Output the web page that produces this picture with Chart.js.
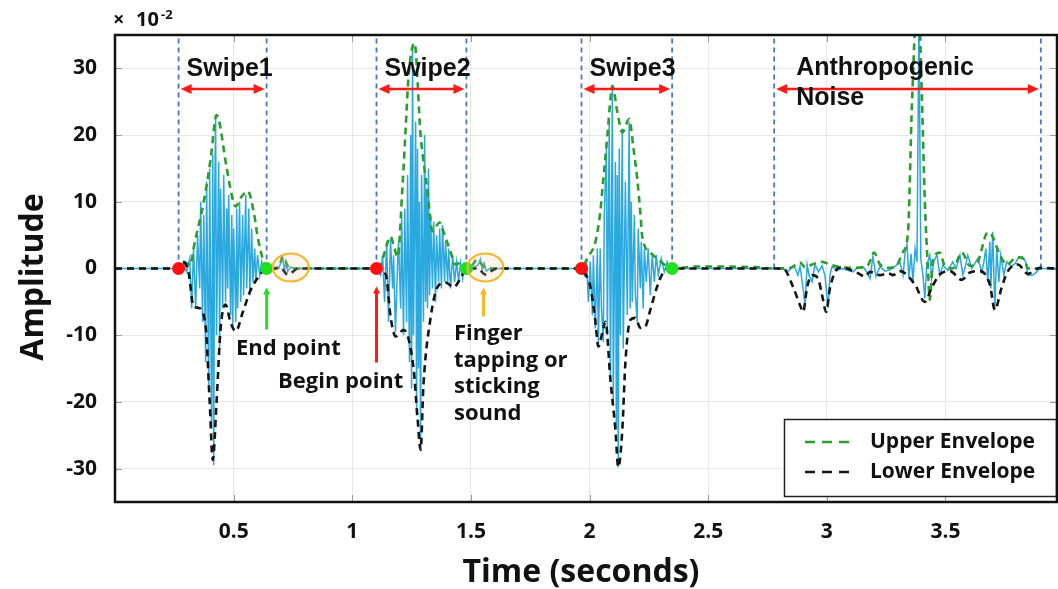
<!DOCTYPE html>
<html>
<head>
<meta charset="utf-8">
<script src="https://cdn.jsdelivr.net/npm/chart.js@4.4.1/dist/chart.umd.min.js"></script>
<style>
  html, body { margin: 0; padding: 0; background: #fff; overflow: hidden; }
  canvas { display: block; }
</style>
</head>
<body>
<canvas id="c" width="1058" height="589"></canvas>
<script>
// ---- axis ticks ----
const xTickValues = [0.5, 1, 1.5, 2, 2.5, 3, 3.5];
const yTickValues = [-30, -20, -10, 0, 10, 20, 30];

// ---- segment boundaries (seconds) ----
const swipeBegin = [0.268, 1.102, 1.966];
const swipeEnd = [0.639, 1.481, 2.348];
const noiseWindow = [2.778, 3.902];
const segmentNames = ['Swipe1', 'Swipe2', 'Swipe3'];
const tapCentres = [0.741, 1.561];

// ---- recorded waveform [time s, amplitude x1e-2] ----
const signalLead = [[0, 0]];
const signalSwipe1 = [[0.268,0],[0.285,0.8],[0.302,-0.5],[0.315,1.5],[0.323,-6],[0.331,3],[0.340,-6],[0.348,5],[0.357,-3],[0.361,10],[0.369,-8],[0.374,8],[0.382,-14],[0.386,13],[0.395,-18],[0.399,15],[0.407,-24],[0.412,17],[0.416,-29.5],[0.420,10],[0.424,23],[0.428,-10],[0.437,16],[0.441,-12],[0.445,12],[0.454,-6],[0.458,14],[0.466,-5],[0.471,9],[0.475,-3],[0.479,11],[0.487,-7],[0.492,8],[0.496,-9],[0.500,6],[0.509,-8],[0.513,9],[0.517,-6],[0.525,10],[0.530,-5],[0.538,8],[0.542,-4],[0.551,11],[0.555,-3],[0.564,9],[0.568,-4],[0.576,6],[0.581,-2],[0.589,3],[0.593,-2],[0.601,2],[0.610,-1],[0.618,1],[0.627,-0.5],[0.639,0]];
const signalTap1 = [[0.690,0],[0.707,1.6],[0.714,-0.3],[0.720,1.0],[0.727,-0.5],[0.740,0.2],[0.760,0]];
const signalSwipe2 = [[1.102,0],[1.119,-1],[1.128,2],[1.136,-5],[1.145,4],[1.153,-8],[1.161,4.5],[1.170,-3],[1.174,2],[1.182,-9.5],[1.191,1],[1.195,4],[1.204,-6],[1.208,8],[1.216,-10],[1.221,9],[1.229,-8],[1.233,14],[1.241,-14],[1.246,20],[1.250,-18],[1.254,33.5],[1.258,-10],[1.267,22],[1.271,-22],[1.275,18],[1.279,-15],[1.283,10],[1.288,-27],[1.292,14],[1.300,-8],[1.305,20],[1.309,-5],[1.313,12],[1.317,-6],[1.321,15],[1.326,-4],[1.330,8],[1.338,-3],[1.343,7],[1.351,-5],[1.355,5],[1.364,-2],[1.368,6],[1.376,-3],[1.380,6.5],[1.389,-2],[1.393,4],[1.402,-2],[1.406,3],[1.414,-3],[1.423,2],[1.431,-2],[1.440,1],[1.448,-2],[1.456,0.8],[1.465,-1.5],[1.473,0.5],[1.481,0]];
const signalTap2 = [[1.500,0],[1.530,0.5],[1.540,1.4],[1.548,-0.3],[1.556,0.8],[1.565,-0.4],[1.580,0]];
const signalSwipe3 = [[1.966,0],[1.978,-1],[1.987,1.5],[1.995,-5],[2.003,1],[2.012,-7],[2.016,2],[2.024,-9],[2.033,3],[2.037,-11.5],[2.045,3],[2.050,-6],[2.058,-11],[2.062,8],[2.071,18],[2.075,-10],[2.083,22],[2.088,-17],[2.096,27],[2.100,-20],[2.109,16],[2.113,-24],[2.117,14],[2.121,-29.8],[2.125,18],[2.130,-10],[2.138,21],[2.142,-12],[2.151,13],[2.159,-7],[2.167,22],[2.171,-6],[2.176,10],[2.180,-5],[2.189,8],[2.193,-4],[2.201,-8],[2.205,6],[2.214,-3],[2.218,4],[2.226,-6],[2.231,3],[2.239,-2],[2.247,3],[2.256,-4],[2.264,2],[2.273,-2],[2.281,2],[2.290,-1],[2.302,1.5],[2.315,-0.5],[2.327,1],[2.336,0],[2.348,0]];
const signalNoise = [[2.778,0],[2.816,0],[2.833,-0.5],[2.862,0.4],[2.878,-1],[2.887,0.3],[2.900,-3],[2.908,-5.5],[2.917,0.6],[2.925,-1],[2.938,-2],[2.950,0.6],[2.965,-0.5],[2.980,0.4],[2.992,-1],[3.005,-5.9],[3.013,-1],[3.022,0.3],[3.043,-0.3],[3.064,0],[3.110,-0.5],[3.131,0.2],[3.152,0.3],[3.170,-0.6],[3.182,-1.5],[3.194,1.8],[3.207,-1.2],[3.224,0.3],[3.245,-0.4],[3.266,-0.2],[3.290,0.4],[3.308,1],[3.321,-1],[3.330,2.5],[3.338,3.6],[3.346,-1.5],[3.355,2.2],[3.363,-2],[3.372,3],[3.380,1],[3.388,38],[3.396,1.5],[3.405,-1],[3.413,-4.5],[3.421,0.5],[3.434,2],[3.442,-1.5],[3.451,1],[3.464,2.1],[3.476,-1],[3.489,0.5],[3.510,-0.3],[3.531,1],[3.545,0],[3.561,2],[3.573,-1],[3.585,0.5],[3.594,2],[3.611,0],[3.636,1.5],[3.653,-0.5],[3.662,1],[3.670,3],[3.678,-2],[3.687,4],[3.691,-3],[3.699,5.5],[3.708,-6],[3.716,3],[3.725,-2],[3.733,2],[3.746,-1],[3.758,1],[3.779,0.3],[3.795,0.8],[3.805,1.5],[3.822,1.8],[3.838,1],[3.847,-1],[3.864,-1],[3.876,-0.8],[3.897,0],[3.970,0]];

// ---- upper envelope ----
const upperLead = [[0, 0]];
const upperSwipe1 = [[0.268,0],[0.289,1],[0.319,0.5],[0.331,3],[0.374,10],[0.403,16.4],[0.428,23],[0.471,15],[0.492,11],[0.509,9.3],[0.530,10.6],[0.560,11.6],[0.585,8.4],[0.601,4.8],[0.623,1.4],[0.639,0]];
const upperTap1 = [[0.690,0.2],[0.707,1.8],[0.732,0.2],[0.760,0]];
const upperSwipe2 = [[1.102,0],[1.124,1],[1.145,3.5],[1.161,4.8],[1.178,3],[1.191,1.7],[1.212,12.6],[1.225,21],[1.237,28.7],[1.262,33.8],[1.288,20],[1.317,11.6],[1.338,5.6],[1.368,6.9],[1.389,5],[1.414,2.5],[1.435,0.6],[1.465,1],[1.481,0]];
const upperTap2 = [[1.505,0.5],[1.525,1.3],[1.555,0.3],[1.590,0]];
const upperSwipe3 = [[1.966,0],[1.983,1],[1.995,1.8],[2.024,3.9],[2.045,8.4],[2.058,13.4],[2.075,19.8],[2.088,25.4],[2.096,27.4],[2.117,23.5],[2.138,20.4],[2.167,22.4],[2.184,18.3],[2.201,13.4],[2.214,8.4],[2.222,4.8],[2.256,2.4],[2.298,1.1],[2.327,0.3],[2.348,0]];
const upperNoise = [[2.450,0.3],[2.700,0.2],[2.778,0],[2.845,0.1],[2.887,0.9],[2.908,0.2],[2.938,0.6],[2.980,1.0],[3.013,0.6],[3.056,0.2],[3.119,0.1],[3.173,0.5],[3.199,2.4],[3.224,0.6],[3.266,0.1],[3.295,0.5],[3.321,2.5],[3.342,5.4],[3.359,25],[3.384,42],[3.401,25],[3.413,10],[3.426,0],[3.434,-4.7],[3.447,1.4],[3.476,2.4],[3.497,0.4],[3.531,0],[3.569,2.4],[3.603,0.4],[3.636,1],[3.678,5.4],[3.695,5],[3.729,2.1],[3.758,0.6],[3.801,1.7],[3.834,1.3],[3.847,0],[3.902,0],[3.970,0]];

// ---- lower envelope ----
const lowerLead = [[0, 0]];
const lowerSwipe1 = [[0.268,0],[0.285,1],[0.310,-0.6],[0.331,-5.7],[0.352,-5.9],[0.382,-8.7],[0.399,-20],[0.412,-28.7],[0.428,-20],[0.445,-9],[0.466,-5.4],[0.487,-8.1],[0.509,-9.4],[0.538,-6.6],[0.572,-3.2],[0.606,-1.2],[0.639,0]];
const lowerTap1 = [[0.700,0],[0.727,-0.9],[0.749,-0.5],[0.770,0]];
const lowerSwipe2 = [[1.102,0],[1.141,-0.9],[1.162,-7.4],[1.183,-10.2],[1.216,-9.2],[1.258,-14.9],[1.275,-22.4],[1.288,-27.2],[1.300,-17.4],[1.330,-7.4],[1.359,-2.8],[1.393,-2.1],[1.427,-2.8],[1.465,-0.9],[1.481,0]];
const lowerTap2 = [[1.530,0],[1.560,-0.9],[1.585,-0.4],[1.610,0]];
const lowerSwipe3 = [[1.966,0],[1.985,-1],[2.003,-2.7],[2.024,-7.7],[2.037,-11.7],[2.054,-9.6],[2.067,-8],[2.088,-16.7],[2.109,-24.2],[2.121,-29.8],[2.138,-24.2],[2.151,-14.1],[2.172,-7.7],[2.193,-7.4],[2.214,-8.9],[2.235,-8.7],[2.256,-6.2],[2.285,-2.7],[2.311,-0.6],[2.348,0]];
const lowerNoise = [[2.778,0],[2.816,0],[2.858,-2.8],[2.887,-5.5],[2.900,-6.5],[2.917,-2.8],[2.938,-1],[2.963,-1.5],[2.980,-4],[2.997,-6.5],[3.013,-3],[3.035,-0.5],[3.064,0.2],[3.098,-0.2],[3.131,-0.7],[3.161,-1.2],[3.182,-0.5],[3.224,-1],[3.258,-0.7],[3.279,-1],[3.308,-0.4],[3.371,-2.4],[3.413,-5],[3.443,-2.8],[3.476,-0.9],[3.519,-0.4],[3.569,-1.7],[3.603,-0.6],[3.645,-0.4],[3.687,-2.4],[3.708,-6.2],[3.737,-2.8],[3.763,-0.4],[3.805,0.6],[3.847,-0.8],[3.897,0.1],[3.970,0]];

const arrowLevel = 26.9;

// ---- helpers ----
const toPoints = arr => arr.map(p => ({ x: p[0], y: p[1] }));
const signal = toPoints([].concat(signalLead, signalSwipe1, signalTap1, signalSwipe2, signalTap2, signalSwipe3, signalNoise));
const upper = toPoints([].concat(upperLead, upperSwipe1, upperTap1, upperSwipe2, upperTap2, upperSwipe3, upperNoise));
const lower = toPoints([].concat(lowerLead, lowerSwipe1, lowerTap1, lowerSwipe2, lowerTap2, lowerSwipe3, lowerNoise));
const markerTimes = [...swipeBegin, ...swipeEnd, ...noiseWindow].sort((a, b) => a - b);
const markers = [];
markerTimes.forEach(t => { markers.push({ x: t, y: 0 }, { x: t, y: 36 }, { x: t, y: null }); });

const SANS = "'Open Sans', 'Noto Sans', sans-serif";
const ARIAL = "'Liberation Sans', Arial, sans-serif";

function arrowHead(ctx, x, y, dir, len, half) {
  // dir: 'left' | 'right' | 'up'
  ctx.beginPath();
  if (dir === 'left') { ctx.moveTo(x, y); ctx.lineTo(x + len, y - half); ctx.lineTo(x + len, y + half); }
  else if (dir === 'right') { ctx.moveTo(x, y); ctx.lineTo(x - len, y - half); ctx.lineTo(x - len, y + half); }
  else { ctx.moveTo(x, y); ctx.lineTo(x - half, y + len); ctx.lineTo(x + half, y + len); }
  ctx.closePath();
  ctx.fill();
}

const decorations = {
  id: 'decorations',
  beforeDatasetsDraw(chart) {
    const { ctx, chartArea: a } = chart;
    const xs = chart.scales.x, ys = chart.scales.y;
    // short inward ticks on the frame
    ctx.save();
    ctx.strokeStyle = '#9a9a9a';
    ctx.lineWidth = 1;
    xTickValues.forEach(v => {
      const px = Math.round(xs.getPixelForValue(v)) + 0.5;
      ctx.beginPath();
      ctx.moveTo(px, a.bottom); ctx.lineTo(px, a.bottom - 7);
      ctx.moveTo(px, a.top); ctx.lineTo(px, a.top + 7);
      ctx.stroke();
    });
    yTickValues.forEach(v => {
      const py = Math.round(ys.getPixelForValue(v)) + 0.5;
      ctx.beginPath();
      ctx.moveTo(a.left, py); ctx.lineTo(a.left + 7, py);
      ctx.moveTo(a.right, py); ctx.lineTo(a.right - 7, py);
      ctx.stroke();
    });
    ctx.restore();
  },
  afterDatasetsDraw(chart) {
    const { ctx, chartArea: a } = chart;
    const xs = chart.scales.x, ys = chart.scales.y;
    const X = v => xs.getPixelForValue(v), Y = v => ys.getPixelForValue(v);
    const y0 = Y(0);

    ctx.save();
    // tapping-sound rings
    tapCentres.forEach(t => {
      ctx.beginPath();
      ctx.ellipse(X(t), y0 - 1, 18, 14, 0, 0, Math.PI * 2);
      ctx.fillStyle = 'rgba(250, 200, 160, 0.18)';
      ctx.fill();
      ctx.strokeStyle = '#f7b52c';
      ctx.lineWidth = 2;
      ctx.stroke();
    });

    // red span arrows
    const spans = swipeBegin.map((b, i) => [b, swipeEnd[i]]).concat([noiseWindow]);
    ctx.strokeStyle = '#ff1a1a';
    ctx.fillStyle = '#ff1a1a';
    ctx.lineWidth = 2.5;
    const ya = Y(arrowLevel);
    spans.forEach(([b, e]) => {
      const x1 = X(b) + 2, x2 = X(e) - 2;
      ctx.beginPath();
      ctx.moveTo(x1 + 6, ya); ctx.lineTo(x2 - 6, ya);
      ctx.stroke();
      arrowHead(ctx, x1, ya, 'left', 11, 5);
      arrowHead(ctx, x2, ya, 'right', 11, 5);
    });

    // segment labels
    ctx.fillStyle = '#111';
    ctx.font = `bold 25px ${ARIAL}`;
    ctx.textBaseline = 'alphabetic';
    ctx.textAlign = 'left';
    segmentNames.forEach((name, i) => {
      ctx.fillText(name, X(swipeBegin[i]) + 8, a.top + 41);
    });
    ctx.fillText('Anthropogenic', X(noiseWindow[0]) + 22, a.top + 40);
    ctx.fillText('Noise', X(noiseWindow[0]) + 22, a.top + 70);

    // pointer arrows
    const pointer = (t, yTop, yBot, colour) => {
      const px = X(t);
      ctx.strokeStyle = colour; ctx.fillStyle = colour; ctx.lineWidth = 3;
      ctx.beginPath(); ctx.moveTo(px, yTop + 6); ctx.lineTo(px, yBot); ctx.stroke();
      arrowHead(ctx, px, yTop, 'up', 7, 3.5);
    };
    pointer(swipeEnd[0], y0 + 19, y0 + 61, '#22e022');
    pointer(swipeBegin[1], y0 + 18, y0 + 94, '#ff1a1a');
    pointer(tapCentres[1] - 0.008, y0 + 19, y0 + 48, '#fbb829');

    ctx.fillStyle = '#111';
    ctx.font = `bold 22px ${SANS}`;
    ctx.fillText('End point', 236, 355);
    ctx.fillText('Begin point', 278, 388);
    ['Finger', 'tapping or', 'sticking', 'sound'].forEach((s, i) => ctx.fillText(s, 454, 340 + i * 26.5));

    // legend
    const lx = 784.5, ly = 419.5, lw = 272, lh = 77;
    ctx.fillStyle = '#fff';
    ctx.fillRect(lx, ly, lw, lh);
    ctx.strokeStyle = '#222'; ctx.lineWidth = 1.5;
    ctx.strokeRect(lx, ly, lw, lh);
    const legendRows = [
      { label: chart.data.datasets[3].label, colour: chart.data.datasets[3].borderColor, y: 442 },
      { label: chart.data.datasets[2].label, colour: chart.data.datasets[2].borderColor, y: 472 }
    ];
    legendRows.forEach(r => {
      ctx.strokeStyle = r.colour; ctx.lineWidth = 2.5;
      ctx.setLineDash([10, 7]);
      ctx.beginPath(); ctx.moveTo(805, r.y); ctx.lineTo(856, r.y); ctx.stroke();
      ctx.setLineDash([]);
      ctx.fillStyle = '#111';
      ctx.font = `bold 21px ${SANS}`;
      ctx.textBaseline = 'middle';
      ctx.fillText(r.label, 870, r.y);
    });
    ctx.textBaseline = 'alphabetic';

    // frame
    ctx.strokeStyle = '#111';
    ctx.lineWidth = 2.5;
    ctx.strokeRect(a.left, a.top, a.right - a.left, a.bottom - a.top);

    // exponent
    ctx.fillStyle = '#111';
    ctx.font = `bold 20px ${SANS}`;
    ctx.fillText('\u00d7', 113, 26);
    ctx.fillText('10', 136, 26);
    ctx.font = `bold 13px ${SANS}`;
    ctx.fillText('-2', 161, 19);

    // axis titles
    ctx.font = `bold 32px ${SANS}`;
    ctx.textAlign = 'center';
    ctx.fillText('Time (seconds)', 581, 582);
    ctx.translate(43, 277);
    ctx.rotate(-Math.PI / 2);
    ctx.fillText('Amplitude', 0, 0);
    ctx.restore();
  }
};

function build() {
  new Chart(document.getElementById('c'), {
    type: 'line',
    data: {
      datasets: [
        { label: 'Begin', data: swipeBegin.map(t => ({ x: t, y: 0 })), showLine: false, pointRadius: 6.5, pointBackgroundColor: '#ff1010', pointBorderWidth: 0 },
        { label: 'End', data: swipeEnd.map(t => ({ x: t, y: 0 })), showLine: false, pointRadius: 6.5, pointBackgroundColor: '#1ee01e', pointBorderWidth: 0 },
        { label: 'Lower Envelope', data: lower, borderColor: '#151515', borderWidth: 2.6, borderDash: [7, 5], pointRadius: 0, cubicInterpolationMode: 'monotone', fill: false },
        { label: 'Upper Envelope', data: upper, borderColor: '#2a9d2a', borderWidth: 2.6, borderDash: [7, 5], pointRadius: 0, cubicInterpolationMode: 'monotone', fill: false },
        { label: 'Segments', data: markers, borderColor: '#4a74c9', borderWidth: 1.8, borderDash: [5, 4], pointRadius: 0, spanGaps: false, tension: 0 },
        { label: 'Signal', data: signal, borderColor: '#2aa8e0', borderWidth: 1.5, pointRadius: 0, tension: 0 }
      ]
    },
    options: {
      responsive: false,
      devicePixelRatio: 1,
      animation: false,
      events: [],
      layout: { autoPadding: false, padding: { top: 35, right: 1, left: 0, bottom: 0 } },
      plugins: { legend: { display: false }, tooltip: { enabled: false } },
      scales: {
        x: {
          type: 'linear', min: 0, max: 3.97,
          afterBuildTicks: s => { s.ticks = xTickValues.map(v => ({ value: v })); },
          afterFit: s => { s.height = 87; s.paddingRight = 0; s.paddingLeft = 0; },
          grid: { color: '#e8e8e8', drawTicks: false },
          border: { display: false },
          ticks: { color: '#111', font: { family: SANS, weight: 'bold', size: 21 }, padding: 17, maxRotation: 0, autoSkip: false, callback: v => String(v) }
        },
        y: {
          type: 'linear', min: -35, max: 35,
          afterBuildTicks: s => { s.ticks = yTickValues.map(v => ({ value: v })); },
          afterFit: s => { s.width = 115; s.paddingTop = 0; s.paddingBottom = 0; },
          grid: { color: '#e8e8e8', drawTicks: false },
          border: { display: false },
          ticks: { color: '#111', font: { family: SANS, weight: 'bold', size: 21 }, padding: 18, callback: v => String(v) }
        }
      }
    },
    plugins: [decorations]
  });
}

Promise.all([
  document.fonts.load(`bold 21px ${SANS}`),
  document.fonts.load(`bold 20px ${SANS}`),
  document.fonts.load(`bold 25px ${ARIAL}`)
]).then(build, build);
</script>
</body>
</html>
